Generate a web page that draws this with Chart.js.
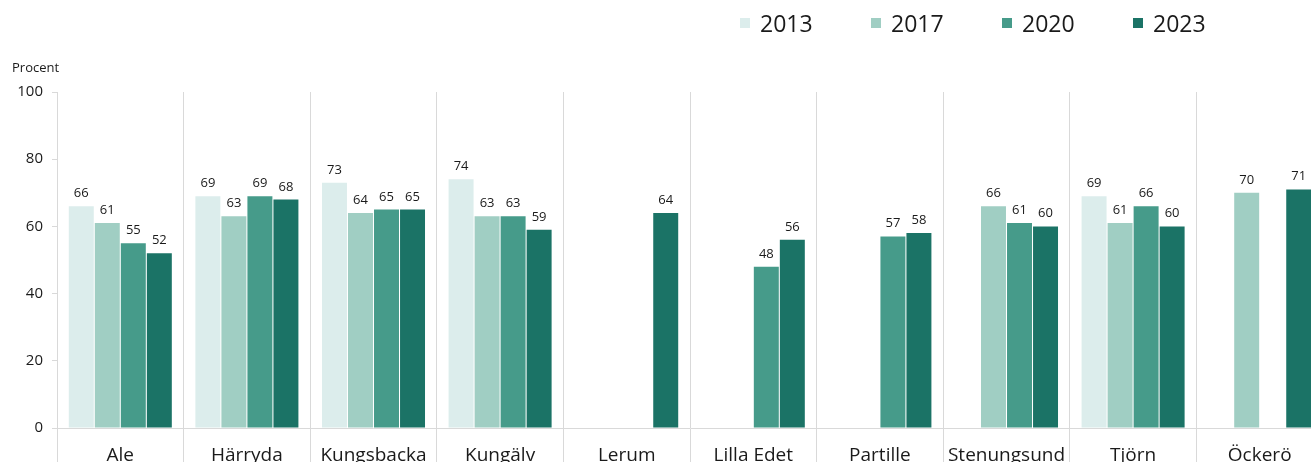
<!DOCTYPE html>
<html>
<head>
<meta charset="utf-8">
<script src="https://cdn.jsdelivr.net/npm/chart.js@4"></script>
<style>
  html, body { margin: 0; padding: 0; background: #fff; overflow: hidden; }
  #wrap { position: relative; width: 1323px; height: 470px; }
  #legend {
    position: absolute; top: 7px; left: 740px; display: flex;
    font-family: 'Open Sans', sans-serif; font-size: 23px; color: #1a1a1a;
  }
  .item { width: 131px; display: flex; align-items: center; }
  .box { width: 10px; height: 10px; margin-right: 10px; }
</style>
</head>
<body>
<div id="wrap">
  <canvas id="chart" width="1323" height="467"></canvas>
  <div id="legend"></div>
</div>
<script>
const categories = ['Ale', 'Härryda', 'Kungsbacka', 'Kungälv', 'Lerum', 'Lilla Edet', 'Partille', 'Stenungsund', 'Tjörn', 'Öckerö'];
const years = ['2013', '2017', '2020', '2023'];
const values2013 = [66, 69, 73, 74, null, null, null, null, 69, null];
const values2017 = [61, 63, 64, 63, null, null, null, 66, 61, 70];
const values2020 = [55, 69, 65, 63, null, 48, 57, 61, 66, null];
const values2023 = [52, 68, 65, 59, 64, 56, 58, 60, 60, 71];
const yTicks = [0, 20, 40, 60, 80, 100];

const seriesColors = ['#dcedec', '#a0cec3', '#469b8a', '#1b7366'];
const textColor = '#1a1a1a';
const gridColor = '#d9d9d9';
const fontFamily = "'Open Sans', sans-serif";

// value above each bar
const valueLabels = {
  id: 'valueLabels',
  afterDatasetsDraw(chart) {
    const ctx = chart.ctx;
    ctx.save();
    ctx.font = '13px ' + fontFamily;
    ctx.fillStyle = textColor;
    ctx.textAlign = 'center';
    ctx.textBaseline = 'alphabetic';
    chart.data.datasets.forEach(function (ds, i) {
      chart.getDatasetMeta(i).data.forEach(function (bar, j) {
        const v = ds.data[j];
        if (v === null || v === undefined) return;
        ctx.fillText(String(v), bar.x, bar.y - 9);
      });
    });
    ctx.restore();
  }
};

const allValues = [values2013, values2017, values2020, values2023];

const chart = new Chart(document.getElementById('chart').getContext('2d'), {
  type: 'bar',
  data: {
    labels: categories,
    datasets: years.map(function (y, i) {
      return {
        label: y,
        data: allValues[i],
        backgroundColor: seriesColors[i],
        categoryPercentage: 0.822,
        barPercentage: 0.96
      };
    })
  },
  options: {
    responsive: false,
    animation: false,
    layout: { padding: { left: 12, right: 0, top: 0, bottom: 0 } },
    plugins: {
      legend: { display: false },
      tooltip: { enabled: false },
      title: {
        display: true,
        text: 'Procent',
        align: 'start',
        color: textColor,
        font: { family: fontFamily, size: 13, weight: 'normal' },
        padding: { top: 60, bottom: 16.4 }
      }
    },
    scales: {
      x: {
        afterFit: function (scale) { scale.height = 39; },
        grid: { color: gridColor, tickLength: 50, offset: true },
        border: { display: true, color: gridColor },
        ticks: {
          color: textColor,
          padding: -34,
          font: { family: fontFamily, size: 19 }
        }
      },
      y: {
        min: 0,
        max: 100,
        afterBuildTicks: function (scale) {
          scale.ticks = yTicks.map(function (v) { return { value: v }; });
        },
        afterFit: function (scale) { scale.width = 45; },
        grid: { drawOnChartArea: false, color: gridColor, tickLength: 5 },
        border: { display: false },
        ticks: {
          color: textColor,
          padding: 9,
          font: { family: fontFamily, size: 15 }
        }
      }
    }
  },
  plugins: [valueLabels]
});

const legendEl = document.getElementById('legend');
years.forEach(function (y, i) {
  const item = document.createElement('div');
  item.className = 'item';
  const box = document.createElement('span');
  box.className = 'box';
  box.style.background = seriesColors[i];
  const txt = document.createElement('span');
  txt.textContent = y;
  item.appendChild(box);
  item.appendChild(txt);
  legendEl.appendChild(item);
});
</script>
</body>
</html>
